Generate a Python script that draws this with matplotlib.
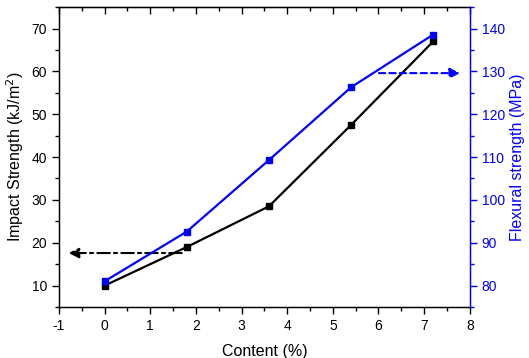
import matplotlib.pyplot as plt
from matplotlib.ticker import MultipleLocator

plt.rcParams['font.family'] = ['Liberation Sans', 'DejaVu Sans']
plt.rcParams['axes.unicode_minus'] = False

# data
content = [0, 1.8, 3.6, 5.4, 7.2]
impact = [10.0, 19.0, 28.5, 47.5, 67.0]
flexural = [81.0, 92.6, 109.3, 126.3, 138.6]

fig = plt.figure(figsize=(5.29, 3.58), dpi=100)
ax = fig.add_axes([0.1115, 0.1425, 0.7765, 0.8375])
ax2 = ax.twinx()

ax.plot(content, impact, color='black', lw=1.6, marker='s', ms=4.5)
ax2.plot(content, flexural, color='#0000ff', lw=1.6, marker='s', ms=4.5)

# arrows pointing to each axis
ax.annotate('', xy=(-0.85, 17.6), xytext=(1.75, 17.6),
            arrowprops=dict(arrowstyle='-|>', color='black', lw=1.5,
                            linestyle=(0, (6, 2, 1.5, 2)), mutation_scale=15))
ax2.annotate('', xy=(7.85, 129.6), xytext=(5.95, 129.6),
             arrowprops=dict(arrowstyle='-|>', color='#0000ff', lw=1.5,
                             linestyle=(0, (3, 2)), mutation_scale=15))

ax.set_xlim(-1, 8)
ax.set_ylim(5, 75)
ax2.set_ylim(75, 145)

ax.xaxis.set_major_locator(MultipleLocator(1))
ax.xaxis.set_minor_locator(MultipleLocator(0.5))
ax.yaxis.set_major_locator(MultipleLocator(10))
ax.yaxis.set_minor_locator(MultipleLocator(5))
ax2.yaxis.set_major_locator(MultipleLocator(10))
ax2.yaxis.set_minor_locator(MultipleLocator(5))

ax.tick_params(axis='both', which='both', direction='out', labelsize=10, width=1)
ax.tick_params(which='major', length=5)
ax.tick_params(which='minor', length=3)
ax2.tick_params(axis='y', which='both', direction='out', colors='#0000ff',
                labelsize=10, width=1)
ax2.tick_params(which='major', length=5)
ax2.tick_params(which='minor', length=3)

# top axis: inward ticks, no labels
top = ax.secondary_xaxis('top')
top.xaxis.set_major_locator(MultipleLocator(1))
top.xaxis.set_minor_locator(MultipleLocator(0.5))
top.tick_params(which='both', direction='in', labeltop=False, width=1)
top.tick_params(which='major', length=5)
top.tick_params(which='minor', length=3)

for sp in ['left', 'bottom', 'top']:
    ax.spines[sp].set_linewidth(1)
ax2.spines['right'].set_color('#0000ff')
ax2.spines['right'].set_linewidth(1)

ax.set_xlabel('Content (%)', fontsize=11.5, labelpad=8)
ax.set_ylabel('Impact Strength (kJ/m$^2$)', fontsize=11.5)
ax2.set_ylabel('Flexural strength (MPa)', fontsize=11.5, color='#0000ff')

fig.savefig('out.png', dpi=100)
